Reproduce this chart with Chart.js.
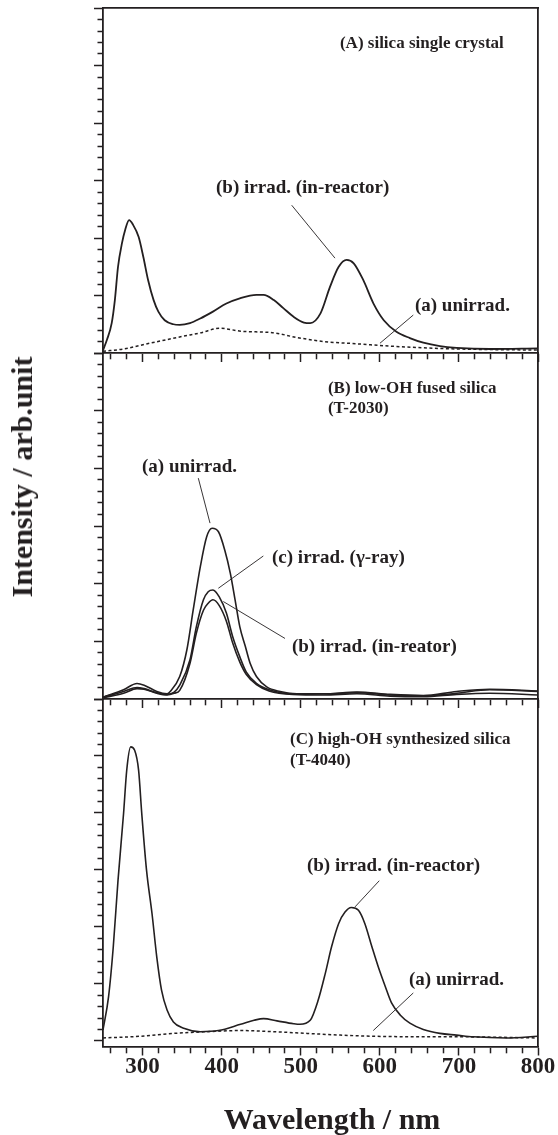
<!DOCTYPE html>
<html>
<head>
<meta charset="utf-8">
<script src="https://cdn.jsdelivr.net/npm/chart.js@4.4.1/dist/chart.umd.min.js"></script>
<style>
  html, body { margin: 0; padding: 0; background: #fff; }
  #wrap { position: relative; width: 558px; height: 1135px; overflow: hidden; }
  #wrap canvas { position: absolute; left: 0; }
  .axis-title {
    position: absolute; white-space: nowrap; line-height: 30px;
    font-family: "Liberation Serif", "DejaVu Serif", serif;
    font-weight: bold; font-size: 30px; color: #231f20;
    transform: translate(-50%, -50%);
  }
  #ytitle { left: 21.5px; top: 477px; transform: translate(-50%, -50%) rotate(-90deg); }
  #xtitle { left: 332px; top: 1119px; }
</style>
</head>
<body>
<div id="wrap">
  <canvas id="panelA" width="558" height="370" style="top:0"></canvas>
  <canvas id="panelB" width="558" height="380" style="top:340px"></canvas>
  <canvas id="panelC" width="558" height="445" style="top:690px"></canvas>
  <div class="axis-title" id="ytitle">Intensity / arb.unit</div>
  <div class="axis-title" id="xtitle">Wavelength / nm</div>
</div>
<script>
// wavelength tick labels on the shared x axis
const xTickLabels = [300, 400, 500, 600, 700, 800];

// (A) silica single crystal
const aIrradNm  = [250, 255, 261, 265, 269, 274, 278, 283, 288, 295, 301, 307, 314, 320, 328, 339, 347, 360, 373, 389,
                   406, 423, 444, 453, 466, 478, 491, 504, 512, 525, 537, 548, 558, 567, 579, 592, 605, 621, 638, 655,
                   676, 697, 739, 800];
const aIrradInt = [0.05, 0.23, 0.52, 0.92, 1.50, 1.91, 2.14, 2.31, 2.23, 2.02, 1.67, 1.27, 0.92, 0.72, 0.57, 0.50, 0.49, 0.52, 0.60, 0.72,
                   0.86, 0.95, 1.01, 1.01, 0.92, 0.78, 0.63, 0.53, 0.52, 0.69, 1.15, 1.50, 1.62, 1.56, 1.27, 0.86, 0.57, 0.37, 0.26, 0.18,
                   0.12, 0.09, 0.07, 0.08];
const aUnirrNm  = [250, 276, 309, 351, 373, 398, 424, 466, 495, 529, 571, 613, 655, 697, 800];
const aUnirrInt = [0.03, 0.07, 0.17, 0.29, 0.35, 0.43, 0.38, 0.35, 0.27, 0.20, 0.16, 0.12, 0.09, 0.07, 0.05];

// (B) low-OH fused silica (T-2030)
const bUnirrNm  = [250, 276, 293, 302, 318, 331, 335, 347, 356, 364, 373, 381, 388, 396, 404, 411, 417, 423, 430, 436,
                   444, 457, 474, 495, 529, 571, 613, 655, 697, 739, 800];
const bUnirrInt = [0.03, 0.16, 0.27, 0.24, 0.13, 0.09, 0.13, 0.39, 0.85, 1.54, 2.29, 2.81, 2.96, 2.90, 2.58, 2.18, 1.72, 1.25, 0.91, 0.62,
                   0.39, 0.21, 0.13, 0.09, 0.09, 0.11, 0.07, 0.05, 0.10, 0.16, 0.13];
const bIrradNm    = [250, 276, 293, 302, 318, 331, 340, 347, 360, 368, 377, 383, 389, 397, 406, 414, 423, 431, 444, 460,
                     490, 529, 571, 613, 655, 697, 739, 800];
const bGammaInt   = [0.03, 0.13, 0.20, 0.18, 0.11, 0.08, 0.12, 0.24, 0.68, 1.25, 1.72, 1.86, 1.89, 1.77, 1.49, 1.08, 0.73, 0.47, 0.27, 0.16,
                     0.09, 0.09, 0.12, 0.08, 0.06, 0.13, 0.17, 0.14];
const bReactorInt = [0.02, 0.10, 0.18, 0.17, 0.10, 0.07, 0.10, 0.15, 0.62, 1.14, 1.54, 1.66, 1.72, 1.62, 1.35, 0.97, 0.64, 0.43, 0.25, 0.14,
                     0.08, 0.07, 0.09, 0.05, 0.04, 0.08, 0.10, 0.07];

// (C) high-OH synthesized silica (T-4040)
const cIrradNm  = [250, 257, 263, 269, 276, 280, 285, 290, 295, 299, 305, 312, 318, 324, 331, 339, 352, 373, 396, 424,
                   441, 453, 470, 491, 499, 512, 522, 531, 539, 548, 556, 564, 573, 581, 590, 598, 607, 615, 626, 638,
                   655, 676, 697, 718, 760, 800];
const cIrradInt = [0.19, 0.77, 1.65, 2.82, 3.99, 4.75, 5.16, 5.10, 4.75, 3.99, 3.00, 2.23, 1.47, 0.89, 0.54, 0.33, 0.22, 0.16, 0.18, 0.29,
                   0.36, 0.39, 0.35, 0.30, 0.29, 0.36, 0.71, 1.18, 1.65, 2.06, 2.26, 2.34, 2.29, 2.06, 1.65, 1.30, 0.95, 0.66, 0.45, 0.31,
                   0.20, 0.13, 0.10, 0.07, 0.05, 0.08];
const cUnirrNm  = [250, 297, 339, 382, 424, 466, 508, 550, 592, 655, 697, 800];
const cUnirrInt = [0.05, 0.08, 0.13, 0.16, 0.18, 0.16, 0.13, 0.10, 0.08, 0.07, 0.07, 0.05];

const ink = '#231f20';
const serif = '"Liberation Serif", "Times New Roman", serif';

// minor ticks every 20 nm, every 0.2 in intensity
const xTickValues = [];
for (let v = 260; v <= 800; v += 20) xTickValues.push(v);
const yTickValues = [];
for (let i = 0; i <= 30; i++) yTickValues.push(i / 5);

const pts = (xs, ys) => xs.map((x, i) => ({ x: x, y: ys[i] }));

function solid(data, width) {
  return { data: data, borderColor: ink, borderWidth: width || 1.6, pointRadius: 0, cubicInterpolationMode: 'monotone', fill: false };
}
function dashed(data) {
  return { data: data, borderColor: ink, borderWidth: 1.5, borderDash: [3, 2.5], pointRadius: 0, cubicInterpolationMode: 'monotone', fill: false };
}

// labels and leader lines, given in data units
const panelNotes = {
  id: 'panelNotes',
  afterDatasetsDraw(chart, args, opts) {
    const { ctx, scales: { x, y } } = chart;
    ctx.save();
    ctx.strokeStyle = ink;
    ctx.lineWidth = 0.9;
    (opts.leaders || []).forEach(l => {
      ctx.beginPath();
      ctx.moveTo(x.getPixelForValue(l[0]), y.getPixelForValue(l[1]));
      ctx.lineTo(x.getPixelForValue(l[2]), y.getPixelForValue(l[3]));
      ctx.stroke();
    });
    ctx.fillStyle = ink;
    ctx.textAlign = 'left';
    ctx.textBaseline = 'middle';
    (opts.labels || []).forEach(l => {
      ctx.font = 'bold ' + l.size + 'px ' + serif;
      ctx.fillText(l.text, x.getPixelForValue(l.nm), y.getPixelForValue(l.v));
    });
    ctx.restore();
  }
};

function makePanel(id, cfg) {
  const scales = {
    x: {
      type: 'linear', position: 'bottom', min: 250, max: 800,
      afterBuildTicks: s => { s.ticks = xTickValues.map(v => ({ value: v })); },
      afterFit: s => { s.height = cfg.xHeight; },
      grid: {
        drawOnChartArea: false, tickLength: 9, tickWidth: 1.5, tickColor: ink,
        tickBorderDash: c => (c.tick && c.tick.value % 100 === 0) ? [] : [5.5, 30]
      },
      border: { color: ink, width: 1.8 },
      ticks: {
        display: cfg.showLabels, autoSkip: false, maxRotation: 0, minRotation: 0, padding: 0,
        color: ink, font: { family: serif, weight: 'bold', size: 23, lineHeight: 1 },
        callback: v => xTickLabels.includes(v) ? String(v) : ''
      }
    },
    y: {
      type: 'linear', position: 'left', min: cfg.yMin, max: 6,
      afterBuildTicks: s => { s.ticks = yTickValues.map(v => ({ value: v })); },
      afterFit: s => { s.width = 103; },
      grid: {
        drawOnChartArea: false, tickLength: 9, tickWidth: 1.5, tickColor: ink,
        tickBorderDash: c => (c.tick && Math.abs(c.tick.value - Math.round(c.tick.value)) < 1e-6) ? [] : [0, 3.5, 5.5, 30]
      },
      border: { color: ink, width: 1.8 },
      ticks: { display: false }
    },
    yRight: {
      type: 'linear', position: 'right', min: 0, max: 1,
      afterFit: s => { s.width = 0; },
      grid: { display: false },
      border: { color: ink, width: 1.8 },
      ticks: { display: false }
    }
  };
  if (cfg.topBorder) {
    scales.xTop = {
      type: 'linear', position: 'top', min: 250, max: 800,
      afterFit: s => { s.height = 0; },
      grid: { display: false },
      border: { color: ink, width: 1.8 },
      ticks: { display: false }
    };
  }
  return new Chart(document.getElementById(id), {
    type: 'line',
    data: { datasets: cfg.datasets },
    options: {
      responsive: false,
      animation: false,
      layout: { padding: { top: cfg.padTop, right: 20, bottom: 0, left: 0 } },
      scales: scales,
      plugins: {
        legend: { display: false },
        tooltip: { enabled: false },
        panelNotes: cfg.notes
      }
    },
    plugins: [panelNotes]
  });
}

makePanel('panelA', {
  padTop: 8, xHeight: 17, yMin: 0, showLabels: false, topBorder: true,
  datasets: [dashed(pts(aUnirrNm, aUnirrInt)), solid(pts(aIrradNm, aIrradInt), 1.8)],
  notes: {
    labels: [
      { text: '(A) silica single crystal', nm: 549.6, v: 5.38, size: 17 },
      { text: '(b) irrad. (in-reactor)', nm: 392.9, v: 2.87, size: 19 },
      { text: '(a) unirrad.', nm: 644.4, v: 0.82, size: 19 }
    ],
    leaders: [[488.6, 2.57, 543.3, 1.65], [642.3, 0.66, 600.2, 0.17]]
  }
});

makePanel('panelB', {
  padTop: 13, xHeight: 21, yMin: 0, showLabels: false, topBorder: false,
  datasets: [
    solid(pts(bUnirrNm, bUnirrInt)),
    solid(pts(bIrradNm, bGammaInt)),
    solid(pts(bIrradNm, bReactorInt))
  ],
  notes: {
    labels: [
      { text: '(B) low-OH fused silica', nm: 534.4, v: 5.39, size: 17 },
      { text: '(T-2030)', nm: 534.4, v: 5.03, size: 17 },
      { text: '(a) unirrad.', nm: 299.3, v: 4.02, size: 19 },
      { text: '(c) irrad. (\u03b3-ray)', nm: 463.7, v: 2.45, size: 19 },
      { text: '(b) irrad. (in-reator)', nm: 488.9, v: 0.90, size: 19 }
    ],
    leaders: [[370.5, 3.83, 385.3, 3.05], [452.7, 2.48, 395.8, 1.92], [480.1, 1.05, 402.1, 1.69]]
  }
});

makePanel('panelC', {
  padTop: 9, xHeight: 88.5, yMin: -0.1, showLabels: true, topBorder: false,
  datasets: [dashed(pts(cUnirrNm, cUnirrInt)), solid(pts(cIrradNm, cIrradInt))],
  notes: {
    labels: [
      { text: '(C) high-OH synthesized silica', nm: 486.4, v: 5.29, size: 17 },
      { text: '(T-4040)', nm: 486.4, v: 4.92, size: 17 },
      { text: '(b) irrad. (in-reactor)', nm: 507.9, v: 3.07, size: 19 },
      { text: '(a) unirrad.', nm: 636.9, v: 1.06, size: 19 }
    ],
    leaders: [[599.3, 2.81, 568.6, 2.35], [642.3, 0.84, 591.7, 0.18]]
  }
});
</script>
</body>
</html>
